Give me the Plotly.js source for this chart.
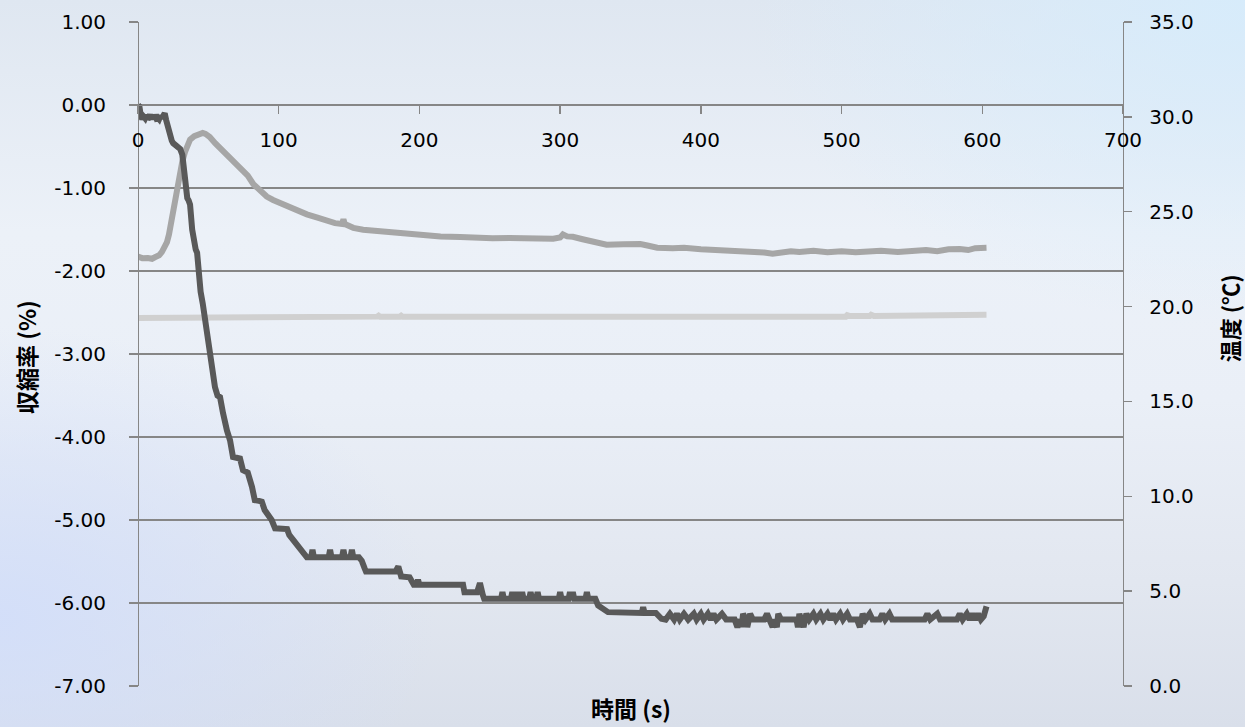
<!DOCTYPE html>
<html>
<head>
<meta charset="utf-8">
<script src="https://cdn.plot.ly/plotly-3.0.1.min.js"></script>
<style>
html, body { margin: 0; padding: 0; }
body {
  width: 1245px; height: 727px; overflow: hidden;
  background:
    radial-gradient(ellipse 40% 45% at 100% 0%, rgba(214,236,252,0.9), rgba(214,236,252,0) 100%),
    radial-gradient(ellipse 35% 40% at 0% 85%, rgba(210,222,250,0.9), rgba(210,222,250,0) 100%),
    linear-gradient(180deg, #dfe7f1 0%, #ecf1f8 32%, #eaeff7 55%, #e2e7f0 80%, #d9dfea 100%);
}
#chart { width: 1245px; height: 727px; }
</style>
</head>
<body>
<div id="chart"></div>
<script>
// ---- 収縮率 (%) : shrinkage vs time ----
const shrinkTime = [
  0, 1, 2, 3, 4, 5, 6, 7, 8, 8.5,
  9, 10, 11, 12, 13, 14, 15, 16, 17, 18,
  19, 20, 21, 22, 23, 24, 25, 27, 29, 30,
  31.5, 32.5, 33.4, 34, 35, 36, 37, 38.5, 40, 41,
  42, 43, 44.5, 46, 47.6, 49, 50, 51.5, 52.6, 54.7,
  56.5, 58.3, 60.4, 62, 63.2, 65.4, 67.5, 70, 72.5, 74.6,
  78, 81, 83, 86, 88, 90, 91.7, 95, 97.4, 100,
  103, 106, 107.5, 109.4, 111, 113.7, 116, 118.7, 120,
  123, 124, 125, 135.5, 136.5, 137.5, 145, 146, 147, 151,
  152, 153, 157, 159, 161, 162, 183, 185, 187, 193,
  196, 198, 199, 200, 231, 232, 241, 243, 245, 246,
  258, 259, 260, 265, 266, 267, 269, 270, 271, 272,
  273, 274, 278, 279, 280, 283, 284, 285, 299, 300,
  301, 306, 307, 308, 309, 310, 318, 319, 320, 325,
  327, 330, 334, 358, 359, 360, 368, 372,
  375, 378, 381, 383, 385, 388, 391, 395, 397, 400,
  402, 405, 407, 409, 411, 415, 418, 424, 426, 428,
  429, 430, 432, 433, 434, 435, 437, 445, 447, 449,
  451, 452, 454, 455, 457, 468, 469, 470, 471, 473,
  474, 475, 477, 480, 482, 485, 487, 490, 492, 494,
  496, 499, 501, 504, 506, 511, 513, 515, 517, 520,
  522, 527, 529, 531, 534, 536, 559, 561, 563, 568,
  570, 582, 584, 586, 589, 591, 593, 595, 597, 599,
  601, 603
];
const shrinkRate = [
  0.00, -0.02, -0.13, -0.17, -0.14, -0.16, -0.12, -0.17, -0.15, -0.11,
  -0.16, -0.13, -0.17, -0.12, -0.16, -0.15, -0.17, -0.13, -0.16, -0.12,
  -0.10, -0.18, -0.26, -0.31, -0.36, -0.43, -0.46, -0.48, -0.50, -0.53,
  -0.60, -0.75, -1.02, -1.08, -1.12, -1.15, -1.20, -1.50, -1.68, -1.74,
  -1.78, -2.00, -2.25, -2.39, -2.59, -2.80, -2.92, -3.05, -3.16, -3.40,
  -3.50, -3.52, -3.71, -3.85, -3.92, -4.04, -4.24, -4.25, -4.26, -4.40,
  -4.43, -4.60, -4.76, -4.77, -4.78, -4.88, -4.92, -5.00, -5.10, -5.10,
  -5.10, -5.11, -5.18, -5.22, -5.24, -5.30, -5.36, -5.43, -5.45,
  -5.45, -5.36, -5.45, -5.45, -5.36, -5.45, -5.45, -5.36, -5.45, -5.45,
  -5.36, -5.45, -5.45, -5.49, -5.58, -5.62, -5.62, -5.56, -5.68, -5.69,
  -5.78, -5.78, -5.72, -5.78, -5.78, -5.87, -5.87, -5.76, -5.90, -5.95,
  -5.95, -5.87, -5.95, -5.95, -5.87, -5.95, -5.95, -5.87, -5.95, -5.95,
  -5.87, -5.95, -5.95, -5.87, -5.95, -5.95, -5.87, -5.95, -5.95, -5.87,
  -5.95, -5.95, -5.87, -5.95, -5.87, -5.95, -5.95, -5.87, -5.95, -5.95,
  -6.03, -6.06, -6.11, -6.12, -6.05, -6.12, -6.12, -6.19,
  -6.20, -6.13, -6.20, -6.13, -6.20, -6.13, -6.20, -6.13, -6.20, -6.13,
  -6.20, -6.13, -6.20, -6.13, -6.20, -6.13, -6.20, -6.20, -6.29, -6.20,
  -6.29, -6.13, -6.20, -6.29, -6.20, -6.13, -6.20, -6.20, -6.13, -6.20,
  -6.29, -6.20, -6.29, -6.13, -6.20, -6.20, -6.29, -6.13, -6.20, -6.29,
  -6.20, -6.13, -6.20, -6.13, -6.20, -6.13, -6.20, -6.13, -6.20, -6.13,
  -6.20, -6.13, -6.20, -6.13, -6.20, -6.20, -6.29, -6.13, -6.20, -6.13,
  -6.20, -6.20, -6.13, -6.20, -6.13, -6.20, -6.20, -6.13, -6.20, -6.13,
  -6.20, -6.20, -6.13, -6.20, -6.13, -6.20, -6.13, -6.20, -6.13, -6.20,
  -6.16, -6.04
];

// ---- 温度 (℃) : specimen temperature ----
const specTime = [
  0, 3, 7, 10, 12, 15, 17, 19, 20.6, 22,
  22.7, 24, 24.9, 26.5, 27.7, 29, 30, 31.5, 33.4, 35,
  37, 40, 42, 44, 46, 48, 51, 55, 59.7, 64,
  69, 73.5, 78, 82, 86, 91.5, 96, 101, 106, 110,
  115, 120, 127, 134, 140, 145, 146, 147, 153, 160,
  167, 175, 186, 195, 205, 215, 229, 240, 252, 264,
  276, 285, 295, 300, 302, 305, 309, 316, 323, 328,
  333, 345, 357, 362, 369, 380, 388, 400, 412, 423,
  435, 445, 451, 458, 464, 470, 480, 490, 500, 510,
  518, 528, 540, 553, 560, 568, 576, 584, 590, 595,
  601, 603
];
const specTemp = [
  22.63, 22.55, 22.56, 22.52, 22.60, 22.70, 22.88, 23.15, 23.40, 23.80,
  24.10, 24.70, 25.20, 25.80, 26.25, 26.80, 27.20, 27.65, 28.15, 28.50,
  28.80, 28.98, 29.04, 29.12, 29.15, 29.10, 28.94, 28.60, 28.25, 27.95,
  27.60, 27.30, 26.90, 26.45, 26.15, 25.80, 25.62, 25.46, 25.25, 25.10,
  24.95, 24.86, 24.70, 24.50, 24.40, 24.35, 24.60, 24.35, 24.15, 24.05,
  24.00, 23.95, 23.88, 23.80, 23.72, 23.70, 23.67, 23.62, 23.60, 23.62,
  23.60, 23.62, 23.58, 23.64, 23.80, 23.70, 23.68, 23.55, 23.42, 23.35,
  23.26, 23.28, 23.30, 23.22, 23.10, 23.08, 23.10, 23.02, 22.98, 22.92,
  22.95, 22.85, 22.78, 22.85, 22.92, 22.88, 22.94, 22.86, 22.92, 22.86,
  22.88, 22.94, 22.88, 22.93, 22.98, 22.92, 23.02, 23.03, 22.98, 23.08,
  23.09, 23.10
];

// ---- 温度 (℃) : room temperature ----
const roomTime = [
  0, 40, 85, 86, 87, 147, 148, 170, 171, 172,
  186, 187, 188, 225, 226, 227, 251, 252, 253, 300,
  400, 503, 504, 506, 520, 521, 523, 530, 531, 536,
  537, 570, 571, 573, 588, 590, 603
];
const roomTemp = [
  19.40, 19.40, 19.40, 19.45, 19.40, 19.40, 19.47, 19.47, 19.52, 19.47,
  19.47, 19.52, 19.47, 19.47, 19.52, 19.47, 19.47, 19.52, 19.47, 19.47,
  19.47, 19.47, 19.55, 19.50, 19.50, 19.57, 19.50, 19.50, 19.57, 19.55,
  19.50, 19.50, 19.57, 19.50, 19.50, 19.57, 19.57
];

// ---- tick labels ----
const leftTickVals = [1, 0, -1, -2, -3, -4, -5, -6, -7];
const leftTickText = ['1.00', '0.00', '-1.00', '-2.00', '-3.00', '-4.00', '-5.00', '-6.00', '-7.00'];
const rightTickVals = [0, 5, 10, 15, 20, 25, 30, 35];
const rightTickText = ['0.0', '5.0', '10.0', '15.0', '20.0', '25.0', '30.0', '35.0'];
const xTickVals = [0, 100, 200, 300, 400, 500, 600, 700];

const axisColor = '#868686';
const tickFont = { family: 'DejaVu Sans, sans-serif', size: 20, color: '#000000' };
const titleFont = { family: 'Noto Sans CJK JP, DejaVu Sans, sans-serif', size: 23, color: '#000000' };

const traces = [
  { x: roomTime, y: roomTemp, yaxis: 'y', type: 'scatter', mode: 'lines',
    line: { color: '#d0d0d0', width: 6 }, hoverinfo: 'skip' },
  { x: specTime, y: specTemp, yaxis: 'y', type: 'scatter', mode: 'lines',
    line: { color: '#a6a6a6', width: 6 }, hoverinfo: 'skip' },
  { x: shrinkTime, y: shrinkRate, yaxis: 'y2', type: 'scatter', mode: 'lines',
    line: { color: '#595959', width: 6 }, hoverinfo: 'skip' }
];

const layout = {
  width: 1245, height: 727,
  margin: { l: 138, r: 122, t: 22, b: 41, pad: 0 },
  paper_bgcolor: 'rgba(0,0,0,0)',
  plot_bgcolor: 'rgba(0,0,0,0)',
  showlegend: false,
  xaxis: {
    range: [0, 700], tickvals: xTickVals, ticktext: xTickVals.map(String),
    anchor: 'free', position: 0.875, side: 'bottom',
    showline: true, linecolor: axisColor, linewidth: 1.3,
    ticks: 'outside', ticklen: 8, tickcolor: axisColor, tickwidth: 1.3,
    showgrid: false, zeroline: false,
    tickfont: tickFont, ticklabelstandoff: 9
  },
  yaxis: {
    range: [0, 35], tickvals: rightTickVals, ticktext: rightTickText,
    side: 'right', anchor: 'free', position: 1,
    showline: true, linecolor: axisColor, linewidth: 1.3,
    ticks: 'outside', ticklen: 8, tickcolor: axisColor, tickwidth: 1.3,
    showgrid: false, zeroline: false,
    tickfont: tickFont, ticklabelstandoff: 13
  },
  yaxis2: {
    range: [-7, 1], tickvals: leftTickVals, ticktext: leftTickText,
    side: 'left', overlaying: 'y', anchor: 'free', position: 0,
    showline: true, linecolor: axisColor, linewidth: 1.3,
    ticks: 'outside', ticklen: 9, tickcolor: axisColor, tickwidth: 1.3,
    showgrid: true, gridcolor: axisColor, gridwidth: 1.3, zeroline: false,
    tickfont: tickFont, ticklabelstandoff: 19
  },
  annotations: [
    { text: '<b>時間 (s)</b>', xref: 'paper', yref: 'paper', x: 0.5, y: -0.0331,
      xanchor: 'center', yanchor: 'middle', showarrow: false, font: titleFont },
    { text: '<b>収縮率 (%)</b>', xref: 'paper', yref: 'paper', x: -0.1137, y: 0.4955,
      xanchor: 'center', yanchor: 'middle', textangle: -90, showarrow: false, font: titleFont },
    { text: '<b>温度 (℃)</b>', xref: 'paper', yref: 'paper', x: 1.1076, y: 0.554,
      xanchor: 'center', yanchor: 'middle', textangle: -90, showarrow: false,
      font: { family: titleFont.family, size: 22, color: '#000000' } }
  ]
};

Plotly.newPlot('chart', traces, layout, { staticPlot: true, displayModeBar: false });
</script>
</body>
</html>
